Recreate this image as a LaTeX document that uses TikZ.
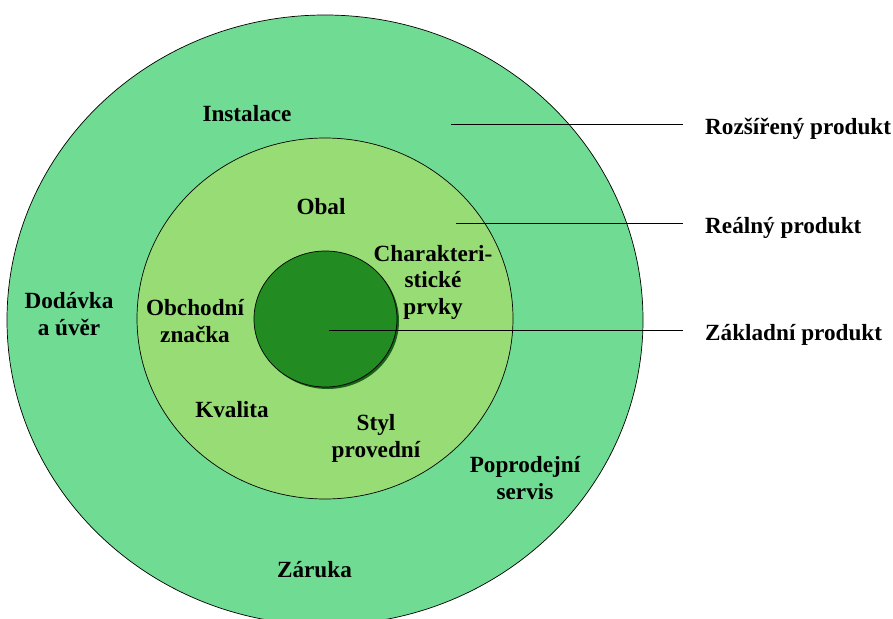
\documentclass[tikz,border=0pt]{standalone}
\usepackage{fontspec}
\setmainfont{Liberation Serif}[BoldFont={Liberation Serif Bold}]
\newfontfamily\popisfont{Liberation Serif Bold}
\usetikzlibrary{shapes.geometric}
\definecolor{rozsgreen}{RGB}{112,220,147}
\definecolor{realgreen}{RGB}{151,220,116}
\definecolor{zaklgreen}{RGB}{34,139,34}
\definecolor{stingreen}{RGB}{24,96,24}
\tikzset{
	vrstva/.style={ellipse, draw=black, line width=0.7pt, inner sep=0pt},
	popis/.style={font=\popisfont\fontsize{23.2}{26.5}\selectfont, align=center, anchor=base, inner sep=0pt},
	legenda/.style={font=\popisfont\fontsize{23.2}{26.5}\selectfont, anchor=base west, inner sep=0pt},
	vodic/.style={line width=0.7pt}
}
\begin{document}
\begin{tikzpicture}[x=1pt,y=-1pt]
	\useasboundingbox (0,0) rectangle (893,618);
	\node[vrstva, fill=rozsgreen, minimum width=636, minimum height=610] (rozsireny) at (325,320) {};
	\node[vrstva, fill=realgreen, minimum width=376, minimum height=361] (realny) at (325,318.5) {};
	\node[ellipse, fill=stingreen, inner sep=0pt, minimum width=143, minimum height=136] (stin) at (327.5,321) {};
	\node[vrstva, fill=zaklgreen, minimum width=143, minimum height=136] (zakladni) at (325.5,319) {};

	% popisky ve vrstvach (base = posledni radek)
	\node[popis] (instalace) at (247,121) {Instalace};
	\node[popis] (dodavka) at (69,335) {Dodávka\\a úvěr};
	\node[popis] (zaruka) at (314.5,577) {Záruka};
	\node[popis] (servis) at (525,499) {Poprodejní\\servis};
	\node[popis] (obal) at (321,214) {Obal};
	\node[popis] (znacka) at (195,342) {Obchodní\\značka};
	\node[popis] (prvky) at (433,314) {Charakteri-\\stické\\prvky};
	\node[popis] (kvalita) at (232,417) {Kvalita};
	\node[popis] (styl) at (376,457) {Styl\\provední};

	% legenda vpravo
	\node[legenda] (lrozs) at (705,134) {Rozšířený produkt};
	\node[legenda] (lreal) at (705,233) {Reálný produkt};
	\node[legenda] (lzakl) at (705,340) {Základní produkt};

	\coordinate (r1) at (451,124);
	\coordinate (r2) at (456,223);
	\coordinate (r3) at (329,330);
	\draw[vodic] (r1) -- ([xshift=-22pt]r1 -| lrozs.west);
	\draw[vodic] (r2) -- ([xshift=-22pt]r2 -| lreal.west);
	\draw[vodic] (r3) -- ([xshift=-22pt]r3 -| lzakl.west);
\end{tikzpicture}
\end{document}
